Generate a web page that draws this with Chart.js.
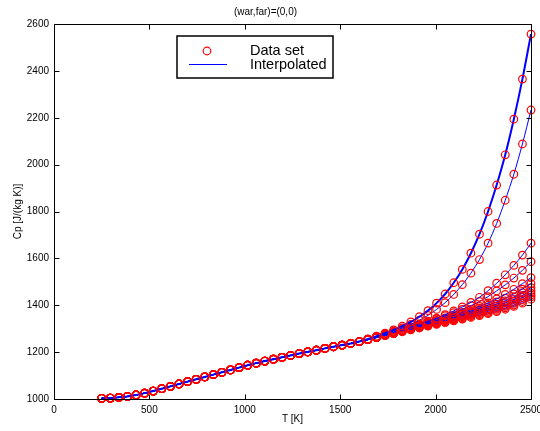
<!DOCTYPE html>
<html>
<head>
<meta charset="utf-8">
<script src="https://cdn.jsdelivr.net/npm/chart.js@4"></script>
<style>
  html, body { margin: 0; padding: 0; background: #fff; }
  canvas { display: block; }
</style>
</head>
<body>
<canvas id="cpChart" width="540" height="431"></canvas>
<script>
// temperature grid [K]
const temps = [250, 295, 340, 385, 430, 475, 520, 565, 610, 655, 700, 745, 790, 835, 880, 925, 970, 1015, 1060, 1105,
    1150, 1195, 1240, 1285, 1330, 1375, 1420, 1465, 1510, 1555, 1600, 1645, 1690, 1735, 1780, 1825, 1870, 1915, 1960, 2005,
    2050, 2095, 2140, 2185, 2230, 2275, 2320, 2365, 2410, 2455, 2500];

// Cp below 1600 K, same for every curve
const cpBase = [1003, 1004, 1007, 1011, 1017, 1025, 1034, 1044, 1054, 1064, 1074, 1084, 1094, 1104, 1114, 1124, 1134, 1144, 1153, 1162,
    1170, 1178, 1186, 1194, 1201, 1208, 1216, 1223, 1230, 1237, 1245];

// Cp from 1645 K up, one row per curve
const cpA = [1256, 1268, 1281, 1295, 1311, 1329, 1351, 1377, 1409, 1448, 1496, 1553, 1622, 1703, 1800, 1913, 2042, 2194, 2365, 2557];
const cpB = [1255, 1266, 1278, 1290, 1303, 1318, 1336, 1357, 1382, 1411, 1446, 1488, 1537, 1595, 1665, 1749, 1848, 1959, 2088, 2233];
const cpC = [1254, 1264, 1275, 1286, 1297, 1308, 1320, 1332, 1345, 1360, 1376, 1393, 1412, 1434, 1462, 1494, 1530, 1570, 1614, 1665];
const cpD = [1254, 1264, 1274, 1285, 1296, 1307, 1318, 1330, 1342, 1355, 1368, 1382, 1398, 1416, 1437, 1461, 1487, 1516, 1549, 1586];
const cpE = [1254, 1264, 1274, 1284, 1295, 1305, 1315, 1325, 1335, 1346, 1357, 1369, 1382, 1395, 1410, 1427, 1446, 1468, 1492, 1518];
const cpF = [1254, 1263, 1273, 1283, 1293, 1303, 1313, 1323, 1333, 1343, 1353, 1364, 1375, 1387, 1400, 1414, 1430, 1448, 1469, 1492];
const cpG = [1254, 1263, 1273, 1282, 1292, 1302, 1311, 1321, 1330, 1339, 1349, 1358, 1369, 1380, 1392, 1405, 1419, 1435, 1454, 1475];
const cpH = [1253, 1263, 1272, 1282, 1291, 1300, 1309, 1318, 1327, 1336, 1345, 1354, 1364, 1374, 1385, 1397, 1410, 1425, 1442, 1462];
const cpI = [1253, 1262, 1272, 1281, 1290, 1299, 1308, 1317, 1325, 1334, 1342, 1351, 1360, 1369, 1379, 1390, 1402, 1416, 1433, 1452];
const cpJ = [1253, 1262, 1271, 1280, 1289, 1298, 1306, 1315, 1323, 1331, 1339, 1347, 1356, 1364, 1374, 1384, 1395, 1408, 1424, 1444];
const cpK = [1253, 1262, 1271, 1280, 1288, 1297, 1305, 1313, 1321, 1329, 1336, 1344, 1352, 1360, 1369, 1378, 1389, 1401, 1416, 1436];
const cpL = [1253, 1262, 1270, 1279, 1287, 1295, 1303, 1311, 1318, 1326, 1333, 1341, 1348, 1356, 1364, 1373, 1383, 1395, 1409, 1426];
const tails = [cpA, cpB, cpC, cpD, cpE, cpF, cpG, cpH, cpI, cpJ, cpK, cpL];

const xTicks = [0, 500, 1000, 1500, 2000, 2500];
const yTicks = [1000, 1200, 1400, 1600, 1800, 2000, 2200, 2400, 2600];

const FONT = 'Liberation Sans, Arial, Helvetica, sans-serif';

// box around the axes with inward ticks, plus the legend
const frame = {
    id: 'frame',
    afterDraw(chart) {
        const { ctx, chartArea: a, scales: { x, y } } = chart;
        const L = Math.round(a.left) + 0.5, R = Math.round(a.right) + 0.5;
        const T = Math.round(a.top) + 0.5, B = Math.round(a.bottom) + 0.5;
        ctx.save();
        ctx.strokeStyle = '#000';
        ctx.lineWidth = 1;
        ctx.beginPath();
        ctx.rect(L, T, R - L, B - T);
        xTicks.forEach(v => {
            const px = Math.round(x.getPixelForValue(v)) + 0.5;
            ctx.moveTo(px, B); ctx.lineTo(px, B - 5);
            ctx.moveTo(px, T); ctx.lineTo(px, T + 5);
        });
        yTicks.forEach(v => {
            const py = Math.round(y.getPixelForValue(v)) + 0.5;
            ctx.moveTo(L, py); ctx.lineTo(L + 5, py);
            ctx.moveTo(R, py); ctx.lineTo(R - 5, py);
        });
        ctx.stroke();

        // legend
        ctx.fillStyle = '#fff';
        ctx.fillRect(177, 36, 156, 42);
        ctx.lineWidth = 1.5;
        ctx.strokeRect(177, 36, 156, 42);
        ctx.lineWidth = 1.2;
        ctx.strokeStyle = '#ff0000';
        ctx.beginPath();
        ctx.arc(207, 51, 3.8, 0, Math.PI * 2);
        ctx.stroke();
        ctx.lineWidth = 1;
        ctx.strokeStyle = '#0000ff';
        ctx.beginPath();
        ctx.moveTo(189, 64.5); ctx.lineTo(227, 64.5);
        ctx.stroke();
        ctx.fillStyle = '#000';
        ctx.font = '14.5px ' + FONT;
        ctx.textBaseline = 'middle';
        ctx.textAlign = 'left';
        ctx.fillText('Data set', 250, 51);
        ctx.fillText('Interpolated', 250, 65);
        ctx.restore();
    }
};

const plain = v => String(v);

new Chart(document.getElementById('cpChart').getContext('2d'), {
    type: 'line',
    data: {
        datasets: tails.map((tail, i) => ({
            label: 'curve ' + (i + 1),
            data: temps.map((t, k) => ({ x: t, y: k < cpBase.length ? cpBase[k] : tail[k - cpBase.length] })),
            borderColor: '#0000ff',
            borderWidth: i === 0 ? 2 : 1,
            pointRadius: 3.8,
            pointBorderColor: '#ff0000',
            pointBackgroundColor: 'rgba(0,0,0,0)',
            pointBorderWidth: 1.2,
            cubicInterpolationMode: 'monotone',
            clip: false
        }))
    },
    options: {
        responsive: false,
        animation: false,
        devicePixelRatio: 1,
        layout: { padding: { right: 9 } },
        plugins: {
            legend: { display: false },
            tooltip: { enabled: false },
            title: {
                display: true,
                text: '(war,far)=(0,0)',
                color: '#000',
                font: { family: FONT, size: 10, weight: 'normal' },
                padding: { top: 6, bottom: 6 }
            }
        },
        scales: {
            x: {
                type: 'linear',
                min: 0, max: 2500,
                afterBuildTicks: s => { s.ticks = xTicks.map(v => ({ value: v })); },
                ticks: { color: '#000', font: { family: FONT, size: 10 }, padding: 5, maxRotation: 0, callback: plain },
                grid: { display: false, drawTicks: false },
                border: { display: false },
                title: { display: true, text: 'T [K]', color: '#000', font: { family: FONT, size: 10 }, padding: { top: 0, bottom: 6 } },
                afterFit: s => { s.height = 32; s.paddingLeft = 0; s.paddingRight = 0; }
            },
            y: {
                type: 'linear',
                min: 1000, max: 2600,
                afterBuildTicks: s => { s.ticks = yTicks.map(v => ({ value: v })); },
                ticks: { color: '#000', font: { family: FONT, size: 10 }, padding: 5, callback: plain },
                grid: { display: false, drawTicks: false },
                border: { display: false },
                title: { display: true, text: 'Cp [J/(kg K)]', color: '#000', font: { family: FONT, size: 10 }, padding: { top: 12, bottom: 0 } },
                afterFit: s => { s.width = 54; s.paddingTop = 0; s.paddingBottom = 0; }
            }
        }
    },
    plugins: [frame]
});
</script>
</body>
</html>
